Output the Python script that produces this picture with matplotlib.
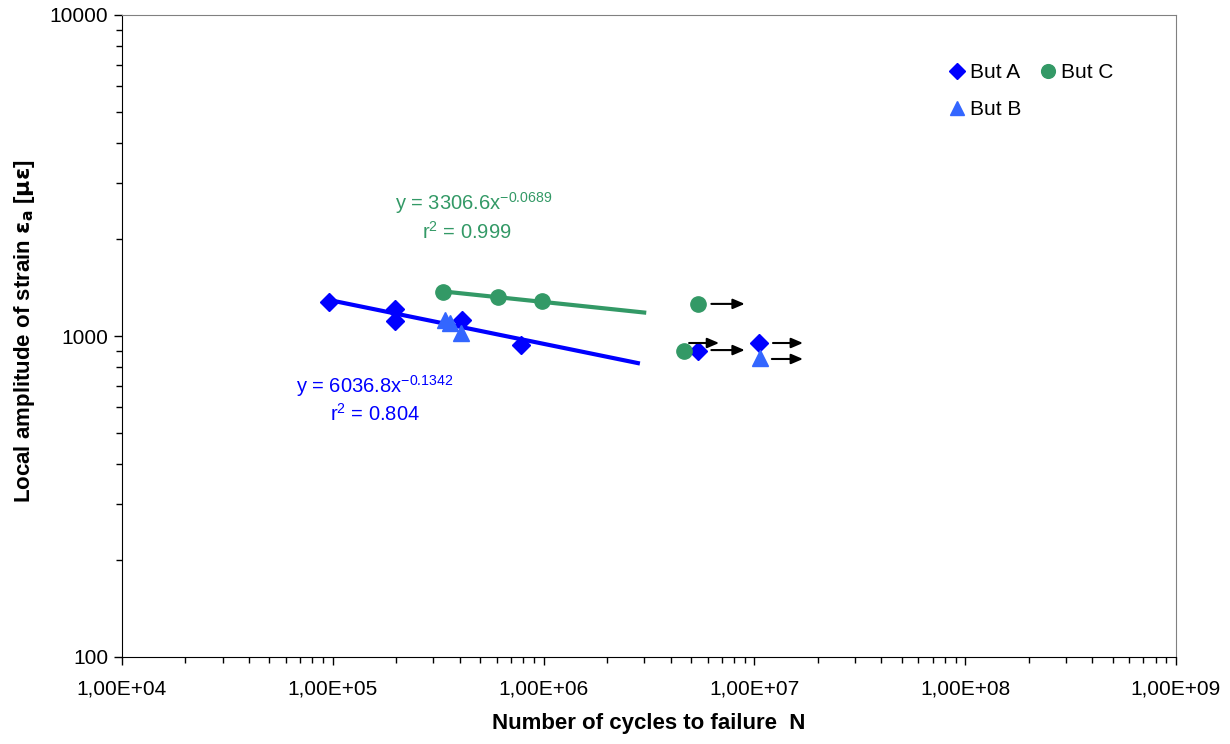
import matplotlib
matplotlib.use("Agg")
import matplotlib.pyplot as plt
import numpy as np
from matplotlib.ticker import FixedLocator, FuncFormatter, LogLocator, NullFormatter

plt.rcParams['font.family'] = ['Liberation Sans', 'DejaVu Sans']
plt.rcParams['mathtext.default'] = 'regular'

# data
but_a_n = [96000, 197000, 197000, 410000, 781000, 5.4e6, 1.05e7]
but_a_eps = [1276, 1213, 1114, 1122, 938, 898, 951]
but_b_n = [340000, 360000, 405000, 1.06e7]
but_b_eps = [1122, 1098, 1021, 854]
but_c_n = [333000, 608000, 982000, 5.4e6, 4.63e6]
but_c_eps = [1371, 1323, 1285, 1259, 898]

# power-law fits shown on the chart: (coef, exponent, n range)
fit_a = (6036.8, -0.1342, (96000, 2.8e6))
fit_c = (3306.6, -0.0689, (333000, 3.0e6))

# run-out arrows: (n start, n end, strain)
runouts = [
    (6.25e6, 9.0e6, 1259),
    (4.9e6, 6.8e6, 951),
    (6.25e6, 9.0e6, 904),
    (1.225e7, 1.7e7, 951),
    (1.21e7, 1.7e7, 848),
]

blue = '#0000FF'
lblue = '#3366FF'
green = '#339966'

fig = plt.figure(figsize=(12.3, 7.44), dpi=100)
ax = fig.add_axes([122 / 1230, 87 / 744, 1054 / 1230, 642 / 744])
ax.set_xscale('log')
ax.set_yscale('log')
ax.set_xlim(1e4, 1e9)
ax.set_ylim(100, 10000)

# trend lines
na = np.array(fit_a[2])
ax.plot(na, fit_a[0] * na ** fit_a[1], color=blue, lw=3, zorder=2)
nc = np.array(fit_c[2])
ax.plot(nc, fit_c[0] * nc ** fit_c[1], color=green, lw=3, zorder=2)

ax.plot(but_a_n, but_a_eps, ls='none', marker='D', ms=9.5, color=blue, label='But A', zorder=3)
ax.plot(but_b_n, but_b_eps, ls='none', marker='^', ms=11, color=lblue, label='But B', zorder=3)
ax.plot(but_c_n, but_c_eps, ls='none', marker='o', ms=11, color=green, label='But C', zorder=3)

for n0, n1, e in runouts:
    ax.annotate('', xy=(n1, e), xytext=(n0, e),
                arrowprops=dict(arrowstyle='-|>,head_length=0.7,head_width=0.3',
                                color='black', lw=1.5, shrinkA=0, shrinkB=0))

ax.text(0.334, 0.707, 'y = 3306.6x$^{-0.0689}$', transform=ax.transAxes,
        ha='center', va='center', color=green, fontsize=14.5)
ax.text(0.327, 0.662, 'r$^{2}$ = 0.999', transform=ax.transAxes,
        ha='center', va='center', color=green, fontsize=14.5)
ax.text(0.240, 0.422, 'y = 6036.8x$^{-0.1342}$', transform=ax.transAxes,
        ha='center', va='center', color=blue, fontsize=14.5)
ax.text(0.240, 0.379, 'r$^{2}$ = 0.804', transform=ax.transAxes,
        ha='center', va='center', color=blue, fontsize=14.5)

ax.xaxis.set_major_locator(FixedLocator([1e4, 1e5, 1e6, 1e7, 1e8, 1e9]))
ax.xaxis.set_major_formatter(FuncFormatter(
    lambda v, p: ('%.2E' % v).replace('.', ',')))
ax.xaxis.set_minor_locator(LogLocator(base=10, subs=np.arange(2, 10), numticks=20))
ax.xaxis.set_minor_formatter(NullFormatter())
ax.yaxis.set_major_locator(FixedLocator([100, 1000, 10000]))
ax.yaxis.set_major_formatter(FuncFormatter(lambda v, p: '%d' % v))
ax.yaxis.set_minor_locator(LogLocator(base=10, subs=np.arange(2, 10), numticks=20))
ax.yaxis.set_minor_formatter(NullFormatter())

ax.tick_params(which='both', direction='out', labelsize=15, top=False, right=False)
ax.tick_params(which='major', length=6, width=1)
ax.tick_params(which='minor', length=4, width=1)
ax.tick_params(axis='x', pad=10.5)
ax.tick_params(axis='y', pad=4)

for s in ('top', 'right'):
    ax.spines[s].set_color('#808080')
for s in ('left', 'bottom'):
    ax.spines[s].set_color('black')

ax.set_xlabel('Number of cycles to failure  N', fontsize=16, fontweight='bold')
ax.set_ylabel(r'Local amplitude of strain $\mathbf{\varepsilon_a}$ [$\mathbf{\mu\varepsilon}$]',
              fontsize=16, fontweight='bold')
ax.xaxis.set_label_coords(0.5, -0.087)
ax.yaxis.set_label_coords(-0.081, 0.508)

handles, labels = ax.get_legend_handles_labels()
ax.legend(handles, labels, ncol=2, loc='upper left', bbox_to_anchor=(0.786, 0.925),
          frameon=False, fontsize=15, handlelength=0.6, handletextpad=0.33,
          columnspacing=1.0, labelspacing=0.85, borderaxespad=0, borderpad=0,
          markerscale=0.9)

fig.savefig('out.png', dpi=100)
